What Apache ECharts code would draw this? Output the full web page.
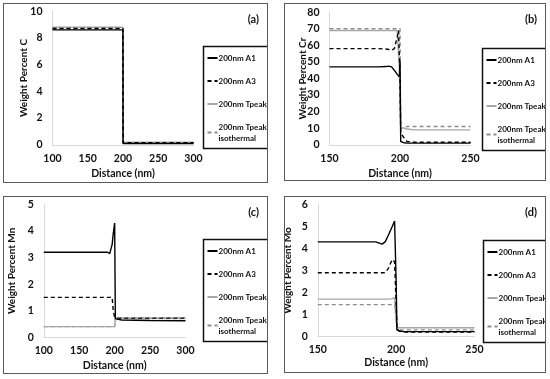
<!DOCTYPE html>
<html>
<head>
<meta charset="utf-8">
<script src="https://cdn.jsdelivr.net/npm/echarts@6/dist/echarts.min.js"></script>
<style>
html,body{margin:0;padding:0;background:#fff;width:550px;height:379px;overflow:hidden;}
.panel{position:absolute;border:1.5px solid #5a5a5a;box-sizing:border-box;}
</style>
</head>
<body>
<div id="pa" class="panel" style="left:3px;top:3px;width:265px;height:180px;"></div>
<div id="pb" class="panel" style="left:284px;top:3px;width:262px;height:178px;"></div>
<div id="pc" class="panel" style="left:3px;top:196px;width:265px;height:178px;"></div>
<div id="pd" class="panel" style="left:284px;top:196px;width:262px;height:177px;"></div>
<script>
// ---------- DATA ----------
const seriesNames = ['200nm A1', '200nm A3', '200nm Tpeak', '200nm Tpeak isothermal'];

// (a) Carbon
const aDist   = [100, 150, 199.9, 200.1, 250, 300];
const aA1     = [8.6, 8.6, 8.6, 0.1, 0.1, 0.1];
const aA3     = [8.7, 8.7, 8.7, 0.15, 0.15, 0.15];
const aTpeak  = [8.8, 8.8, 8.8, 0.2, 0.2, 0.2];
const aIso    = [8.7, 8.7, 8.7, 0.15, 0.15, 0.15];

// (b) Chromium
const bDist   = [150, 185, 190, 192, 194, 196, 198, 199, 199.5, 200, 200.5, 201, 203, 205, 210, 220, 250];
const bA1     = [47, 47, 47.2, 47.5, 47, 45, 42.5, 41.5, 41, 51, 2, 1.5, 1.2, 1, 1, 1, 1];
const bA3     = [58, 58, 57.8, 57.5, 57, 58, 65, 69, 69, 40, 8, 6.5, 4, 2, 1.5, 1.5, 1.5];
const bTpeak  = [69, 69, 69, 69, 69, 69, 69, 69, 69, 40, 10.5, 10.4, 10, 9.5, 9, 9, 9];
const bIso    = [70, 70, 70, 70, 70, 70, 70, 70, 70, 70, 10, 10.2, 10.6, 11, 11, 11, 11];

// (c) Manganese
const cDist   = [100, 150, 190, 193, 196.5, 198, 200, 201, 205, 210, 250, 300];
const cA1     = [3.2, 3.2, 3.2, 3.15, 3.5, 3.9, 4.3, 0.7, 0.67, 0.65, 0.63, 0.62];
const cA3     = [1.5, 1.5, 1.5, 1.5, 1.5, 1.0, 0.75, 0.72, 0.72, 0.72, 0.72, 0.72];
const cTpeak  = [0.4, 0.4, 0.4, 0.4, 0.4, 0.4, 0.4, 0.7, 0.7, 0.7, 0.7, 0.7];
const cIso    = [0.4, 0.4, 0.4, 0.4, 0.4, 0.4, 0.4, 0.73, 0.73, 0.73, 0.73, 0.73];

// (d) Molybdenum
const dDist   = [150, 180, 187, 191, 193, 195, 197.5, 199, 200, 200.5, 202, 205, 210, 250];
const dA1     = [4.3, 4.3, 4.3, 4.2, 4.3, 4.6, 5.0, 5.25, 2.5, 0.3, 0.25, 0.22, 0.22, 0.22];
const dA3     = [2.9, 2.9, 2.9, 2.9, 2.9, 3.1, 3.5, 3.4, 1.5, 0.35, 0.25, 0.2, 0.2, 0.2];
const dTpeak  = [1.7, 1.7, 1.7, 1.7, 1.7, 1.7, 1.72, 1.75, 0.8, 0.4, 0.4, 0.4, 0.4, 0.4];
const dIso    = [1.45, 1.45, 1.45, 1.45, 1.45, 1.45, 1.45, 1.45, 0.8, 0.3, 0.3, 0.3, 0.3, 0.3];

// ---------- STYLE ----------
const FONT = 'Lato';
const lineStyles = [
  {color: '#000000', width: 1.4, type: 'solid'},
  {color: '#000000', width: 1.4, type: [4, 3]},
  {color: '#a6a6a6', width: 1.4, type: 'solid'},
  {color: '#8c8c8c', width: 1.4, type: [4, 3]}
];

function zip(xs, ys){ return xs.map((x, i) => [x, ys[i]]); }

function makeOption(cfg){
  const series = cfg.values.map((vals, i) => ({
    name: seriesNames[i],
    type: 'line',
    data: zip(cfg.dist, vals),
    symbol: 'none',
    smooth: false,
    lineStyle: lineStyles[i],
    itemStyle: {color: lineStyles[i].color},
    z: 10 - i,
    animation: false
  }));
  return {
    animation: false,
    textStyle: {fontFamily: FONT},
    title: {text: cfg.label, right: 3, top: 5,
      textStyle: {fontFamily: FONT, fontSize: 11, fontWeight: 'bold', color: '#111'}},
    grid: Object.assign({outerBoundsMode: 'none', containLabel: false}, cfg.grid),
    legend: {
      orient: 'vertical', left: cfg.legend.left, top: cfg.legend.top,
      borderColor: '#111', borderWidth: 1.5, borderRadius: 0,
      padding: [6, 3, 5, 3], itemGap: 12, itemWidth: 10, itemHeight: 6,
      itemStyle: {color: 'transparent', borderWidth: 0, opacity: 0},
      data: seriesNames,
      formatter: n => n === '200nm Tpeak isothermal' ? '200nm Tpeak\nisothermal' : n,
      textStyle: {fontFamily: FONT, fontSize: 8, fontWeight: 'bold', color: '#111', padding: [0,0,0,-4], lineHeight: 11}
    },
    xAxis: {
      type: 'value', min: cfg.xMin, max: cfg.xMax, interval: 50,
      name: 'Distance (nm)', nameLocation: 'middle', nameGap: cfg.xNameGap, nameMoveOverlap: false,
      nameTextStyle: {fontFamily: FONT, fontSize: 10.5, fontWeight: 'bold', color: '#111'},
      axisLine: {show: true, lineStyle: {color: '#d9d9d9', width: 1}},
      axisTick: {show: false}, splitLine: {show: false},
      axisLabel: {fontFamily: FONT, fontSize: 10.5, fontWeight: 'bold', color: '#111', margin: 8}
    },
    yAxis: {
      type: 'value', min: 0, max: cfg.yMax, interval: cfg.yInt,
      name: cfg.yName, nameLocation: 'middle', nameGap: cfg.yNameGap, nameRotate: 90, nameMoveOverlap: false,
      nameTextStyle: {fontFamily: FONT, fontSize: 10, fontWeight: 'bold', color: '#111'},
      axisLine: {show: true, lineStyle: {color: '#d9d9d9', width: 1}},
      axisTick: {show: false}, splitLine: {show: false},
      axisLabel: {fontFamily: FONT, fontSize: 10.5, fontWeight: 'bold', color: '#111', margin: 10}
    },
    series: series
  };
}

const panels = [
  {id: 'pa', label: '(a)', dist: aDist, values: [aA1, aA3, aTpeak, aIso],
   xMin: 100, xMax: 300, yMax: 10, yInt: 2, yName: 'Weight Percent C', yNameGap: 24, xNameGap: 23,
   grid: {left: 48.5, right: 73.5, top: 7.2, bottom: 37.2},
   legend: {left: 199.5, top: 42.5}},
  {id: 'pb', label: '(b)', dist: bDist, values: [bA1, bA3, bTpeak, bIso],
   xMin: 150, xMax: 250, yMax: 80, yInt: 10, yName: 'Weight Percent Cr', yNameGap: 22, xNameGap: 23,
   grid: {left: 44.5, right: 74.5, top: 8.2, bottom: 35.2},
   legend: {left: 197.5, top: 44.5}},
  {id: 'pc', label: '(c)', dist: cDist, values: [cA1, cA3, cTpeak, cIso],
   xMin: 100, xMax: 300, yMax: 5, yInt: 1, yName: 'Weight Percent Mn', yNameGap: 27, xNameGap: 23,
   grid: {left: 39.8, right: 81.5, top: 7.5, bottom: 35.8},
   legend: {left: 199.5, top: 42.5}},
  {id: 'pd', label: '(d)', dist: dDist, values: [dA1, dA3, dTpeak, dIso],
   xMin: 150, xMax: 250, yMax: 6, yInt: 1, yName: 'Weight Percent Mo', yNameGap: 25, xNameGap: 21,
   grid: {left: 32.8, right: 70.5, top: 7.5, bottom: 35.5},
   legend: {left: 198.5, top: 43.5}}
];

panels.forEach(p => {
  const chart = echarts.init(document.getElementById(p.id), null, {renderer: 'canvas'});
  chart.setOption(makeOption(p));
});
</script>
</body>
</html>
